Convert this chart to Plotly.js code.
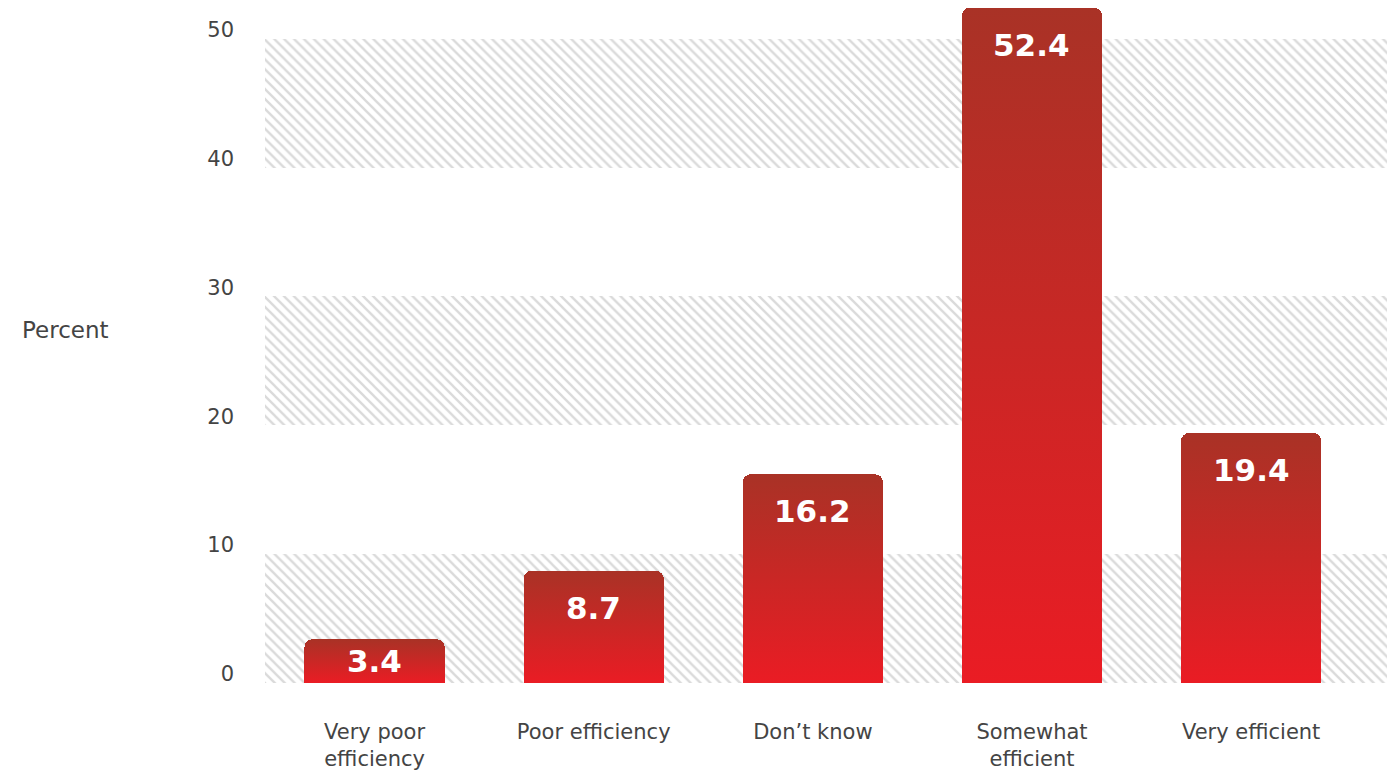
<!DOCTYPE html>
<html>
<head>
<meta charset="utf-8">
<script src="https://cdn.plot.ly/plotly-3.0.1.min.js"></script>
<style>
  html, body { margin: 0; padding: 0; background: #ffffff; }
  #chart { width: 1387px; height: 776px; }
</style>
</head>
<body>
<div id="chart"></div>
<script>
// ---- data ----
const categories = ["Very poor<br>efficiency", "Poor efficiency", "Don\u2019t know", "Somewhat<br>efficient", "Very efficient"];
const percents = [3.4, 8.7, 16.2, 52.4, 19.4];
const yTicks = [0, 10, 20, 30, 40, 50];
const bandStarts = [0, 20, 40];
const bandSize = 10;
const yLabel = "Percent";

const FONT = "'DejaVu Sans', Verdana, sans-serif";
const BAR_BASE = "#c92228";
const Y_MAX = 53;
const PLOT_H = 683;
const PX_PER_UNIT = PLOT_H / Y_MAX;

const hatchTrace = {
  type: "bar",
  orientation: "h",
  x: bandStarts.map(() => 1),
  y: bandStarts.map(s => s + bandSize / 2),
  width: bandStarts.map(() => bandSize),
  xaxis: "x",
  yaxis: "y",
  marker: {
    color: "#ffffff",
    line: { width: 0 },
    pattern: { shape: "\\", fgcolor: "#dadada", bgcolor: "#ffffff", size: 7, solidity: 0.33, fillmode: "replace" }
  },
  hoverinfo: "skip",
  showlegend: false
};

const barTrace = {
  type: "bar",
  x: categories,
  y: percents,
  xaxis: "x2",
  yaxis: "y",
  width: 0.64,
  marker: { color: BAR_BASE, line: { width: 0 }, cornerradius: 8 },
  hoverinfo: "x+y",
  showlegend: false
};

const annotations = percents.map((v, i) => ({
  x: categories[i], y: v, xref: "x2", yref: "y",
  text: "<b>" + v.toFixed(1) + "</b>",
  showarrow: false, yanchor: "middle",
  yshift: -Math.min(37, v * PX_PER_UNIT / 2),
  font: { family: FONT, size: 31, color: "#ffffff" }
}));
annotations.push({
  xref: "paper", yref: "y", x: -0.178, y: 27.4,
  text: yLabel, showarrow: false, xanchor: "center", yanchor: "middle",
  font: { family: FONT, size: 23, color: "#444444" }
});

const layout = {
  width: 1387, height: 776,
  margin: { l: 265, r: 0, t: 0, b: 776 - PLOT_H },
  paper_bgcolor: "#ffffff", plot_bgcolor: "#ffffff",
  font: { family: FONT, color: "#444444" },
  bargap: 0,
  xaxis: { range: [0, 1], visible: false, fixedrange: true },
  xaxis2: {
    type: "category", overlaying: "x", side: "bottom",
    range: [-0.5, 4.62], showgrid: false, zeroline: false, showline: false,
    ticks: "", ticklabelstandoff: 34,
    tickfont: { family: FONT, size: 21, color: "#444444" }
  },
  yaxis: {
    range: [0, Y_MAX], tickvals: yTicks, ticktext: yTicks.map(String),
    showgrid: false, zeroline: false, showline: false, ticks: "",
    ticklabelstandoff: 30, ticklabelshift: -9,
    tickfont: { family: FONT, size: 21, color: "#444444" }
  },
  annotations: annotations
};

function applyGradient(gd) {
  const svg = gd.querySelector("svg.main-svg");
  if (!svg) return;
  let defs = svg.querySelector("defs");
  if (!defs) { defs = document.createElementNS("http://www.w3.org/2000/svg", "defs"); svg.insertBefore(defs, svg.firstChild); }
  if (!svg.querySelector("#redgrad")) {
    const lg = document.createElementNS("http://www.w3.org/2000/svg", "linearGradient");
    lg.setAttribute("id", "redgrad");
    lg.setAttribute("x1", "0"); lg.setAttribute("y1", "0");
    lg.setAttribute("x2", "0"); lg.setAttribute("y2", "1");
    [["0", "#a93226"], ["1", "#ea1c24"]].forEach(([o, c]) => {
      const s = document.createElementNS("http://www.w3.org/2000/svg", "stop");
      s.setAttribute("offset", o); s.setAttribute("stop-color", c);
      lg.appendChild(s);
    });
    defs.appendChild(lg);
  }
  gd.querySelectorAll(".barlayer path").forEach(p => {
    const f = (p.style.fill || "").replace(/\s/g, "");
    if (f === "rgb(201,34,40)") p.style.fill = "url(#redgrad)";
  });
}

const gd = document.getElementById("chart");
Plotly.newPlot(gd, [hatchTrace, barTrace], layout, { displayModeBar: false, staticPlot: true }).then(() => {
  applyGradient(gd);
  gd.on("plotly_afterplot", () => applyGradient(gd));
});
</script>
</body>
</html>
